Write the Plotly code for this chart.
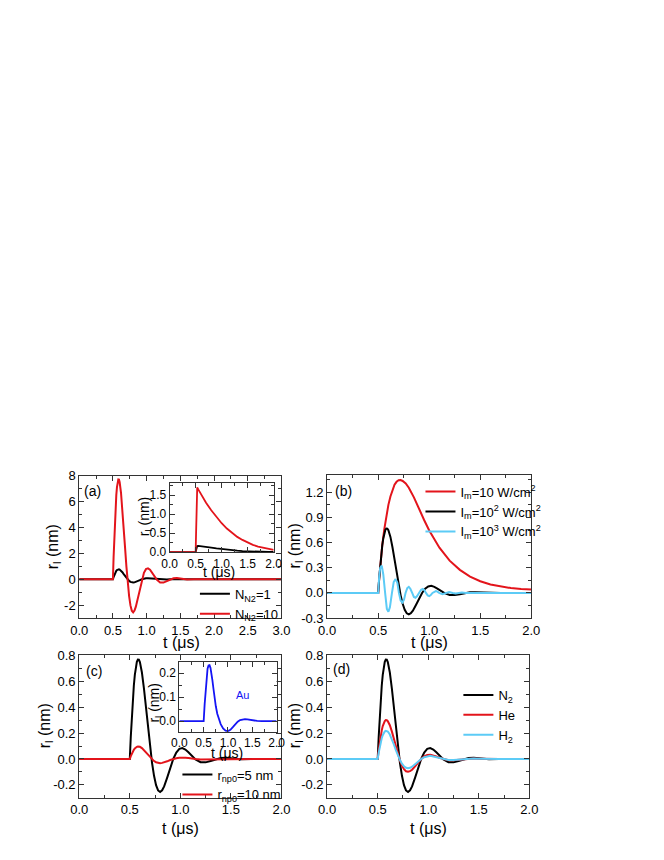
import plotly.graph_objects as go

# page is drawn with an 8px body margin, so the figure is 16px smaller
# than the window and every reference pixel is shifted by OFF
W, H = 648, 844
OFF = 8

BLACK = "#000000"
RED = "#e3141b"
CYAN = "#5ccbf6"
BLUE = "#1414f5"
AXIS = "#333333"
FONT = "Arial, Liberation Sans, sans-serif"

# ---- data ----------------------------------------------------------------
# common time grid (us) for the damped oscillation curves
T_OSC = [0.0, 0.5, 0.51, 0.52, 0.53, 0.54, 0.55, 0.56, 0.57, 0.58, 0.59, 0.60,
         0.62, 0.64, 0.66, 0.68, 0.70, 0.72, 0.74, 0.76, 0.78, 0.80, 0.82, 0.84,
         0.87, 0.90, 0.93, 0.96, 0.99, 1.02, 1.05, 1.08, 1.11, 1.15, 1.20, 1.25,
         1.30, 1.35, 1.40, 1.45, 1.50, 1.60, 1.70, 1.80, 2.00]

# baseline case (N_N2=1, I_m=10^2, r_np0=5 nm, N2)
R_BASE = [0, 0, 0.174, 0.328, 0.459, 0.566, 0.650, 0.712, 0.750, 0.768, 0.767, 0.749,
          0.668, 0.545, 0.398, 0.244, 0.098, -0.029, -0.130, -0.202, -0.243, -0.255, -0.242, -0.212,
          -0.144, -0.067, 0.0, 0.050, 0.078, 0.084, 0.073, 0.052, 0.026, -0.003, -0.025, -0.026,
          -0.015, -0.002, 0.007, 0.009, 0.006, -0.002, 0.0, 0.0, 0.0]

# (a) N_N2 = 10
R_A_N10 = [0, 0, 1.74, 3.28, 4.59, 5.66, 6.50, 7.12, 7.50, 7.70, 7.69, 7.49,
           6.68, 5.45, 3.98, 2.44, 0.98, -0.29, -1.30, -2.02, -2.43, -2.56, -2.42, -2.12,
           -1.44, -0.67, 0.0, 0.50, 0.78, 0.84, 0.73, 0.52, 0.26, -0.03, -0.25, -0.26,
           -0.15, -0.02, 0.07, 0.09, 0.06, -0.02, 0.0, 0.0, 0.0]

# (c) r_np0 = 10 nm
R_C_10NM = [0, 0, 0.022, 0.041, 0.057, 0.071, 0.081, 0.089, 0.094, 0.096, 0.096, 0.094,
            0.084, 0.068, 0.050, 0.031, 0.012, -0.004, -0.016, -0.025, -0.030, -0.032, -0.030, -0.027,
            -0.018, -0.008, 0.0, 0.006, 0.010, 0.011, 0.009, 0.007, 0.003, 0.0, -0.003, -0.003,
            -0.002, 0.0, 0.001, 0.001, 0.001, 0.0, 0.0, 0.0, 0.0]

# (d) He and H2
R_D_HE = [0, 0, 0.068, 0.128, 0.179, 0.221, 0.254, 0.278, 0.293, 0.300, 0.299, 0.292,
          0.261, 0.213, 0.155, 0.095, 0.038, -0.011, -0.050, -0.079, -0.095, -0.099, -0.094, -0.083,
          -0.056, -0.026, 0.0, 0.020, 0.031, 0.033, 0.028, 0.020, 0.010, -0.001, -0.010, -0.010,
          -0.006, -0.001, 0.003, 0.003, 0.002, -0.001, 0.0, 0.0, 0.0]
R_D_H2 = [0, 0, 0.049, 0.093, 0.130, 0.160, 0.184, 0.201, 0.212, 0.217, 0.217, 0.212,
          0.189, 0.154, 0.112, 0.069, 0.027, -0.008, -0.036, -0.057, -0.068, -0.072, -0.068, -0.060,
          -0.040, -0.019, 0.0, 0.014, 0.022, 0.024, 0.020, 0.015, 0.007, -0.001, -0.007, -0.007,
          -0.004, -0.001, 0.002, 0.003, 0.002, -0.001, 0.0, 0.0, 0.0]

# (b) I_m = 10 W/cm2
T_B_10 = [0.0, 0.5, 0.51, 0.52, 0.53, 0.54, 0.56, 0.58, 0.60, 0.62, 0.64, 0.66, 0.68,
          0.70, 0.72, 0.74, 0.77, 0.80, 0.85, 0.90, 0.95, 1.00, 1.05, 1.10, 1.20, 1.30,
          1.40, 1.50, 1.60, 1.70, 1.80, 1.90, 2.00]
R_B_10 = [0, 0, 0.17, 0.33, 0.46, 0.57, 0.76, 0.92, 1.05, 1.15, 1.23, 1.29, 1.325,
          1.343, 1.345, 1.335, 1.305, 1.255, 1.14, 1.00, 0.87, 0.745, 0.635, 0.54, 0.385, 0.275,
          0.195, 0.14, 0.10, 0.075, 0.058, 0.047, 0.04]

# (b) I_m = 10^3 W/cm2
T_B_1000 = [0.0, 0.5, 0.51, 0.52, 0.535, 0.55, 0.568, 0.585, 0.60, 0.615, 0.635, 0.652,
            0.67, 0.688, 0.703, 0.72, 0.737, 0.753, 0.768, 0.785, 0.80, 0.815, 0.833, 0.85,
            0.865, 0.88, 0.90, 0.92, 0.937, 0.953, 0.968, 0.985, 1.0, 1.015, 1.032, 1.05,
            1.065, 1.08, 1.097, 1.13, 1.16, 1.195, 1.23, 1.26, 1.29, 1.32, 1.36, 1.5, 2.0]
R_B_1000 = [0, 0, 0.20, 0.30, 0.325, 0.22, 0.0, -0.19, -0.225, -0.17, 0.0, 0.13,
            0.165, 0.12, 0.0, -0.09, -0.115, -0.08, 0.0, 0.058, 0.072, 0.05, 0.0, -0.048,
            -0.058, -0.04, 0.0, 0.038, 0.047, 0.032, 0.0, -0.03, -0.038, -0.026, 0.0, 0.018,
            0.022, 0.015, 0.0, -0.014, 0.0, 0.01, 0.0, -0.006, 0.0, 0.004, 0.0, 0.0, 0.0]

# inset of (a)
T_IN_A = [0.0, 0.5, 0.51, 0.52, 0.525, 0.53, 0.55, 0.6, 0.7, 0.8, 0.9, 1.0, 1.1,
          1.2, 1.3, 1.4, 1.5, 1.6, 1.7, 1.8, 1.9, 2.0]
R_IN_A_N10 = [0, 0, 0.6, 1.3, 1.62, 1.70, 1.65, 1.52, 1.30, 1.10, 0.92, 0.76, 0.62,
              0.50, 0.40, 0.32, 0.25, 0.19, 0.145, 0.11, 0.08, 0.06]
R_IN_A_N1 = [0, 0, 0.06, 0.12, 0.15, 0.16, 0.165, 0.158, 0.138, 0.118, 0.097, 0.078, 0.062,
             0.048, 0.036, 0.026, 0.018, 0.012, 0.008, 0.005, 0.003, 0.002]

# inset of (c): Au
T_IN_C = [0.0, 0.5, 0.52, 0.54, 0.56, 0.58, 0.60, 0.62, 0.64, 0.66, 0.68, 0.70, 0.72,
          0.75, 0.78, 0.81, 0.85, 0.90, 0.95, 1.00, 1.05, 1.10, 1.15, 1.20, 1.25, 1.30,
          1.35, 1.40, 1.50, 1.60, 1.70, 2.00]
R_IN_C_AU = [0, 0, 0.07, 0.135, 0.185, 0.218, 0.232, 0.233, 0.222, 0.200, 0.170, 0.137, 0.103,
             0.062, 0.031, 0.009, -0.012, -0.030, -0.039, -0.041, -0.036, -0.025, -0.012, -0.002, 0.005, 0.008,
             0.009, 0.008, 0.004, 0.001, 0.0, 0.0]

T_A = T_OSC + [3.0]
R_A_N1 = R_BASE + [0.0]
R_A_N10_FULL = R_A_N10 + [0.0]

A_YTICKS = [-2, 0, 2, 4, 6, 8]
A_YTEXT = ["-2", "0", "2", "4", "6", "8"]
B_YTICKS = [-0.3, 0.0, 0.3, 0.6, 0.9, 1.2]
B_YTEXT = ["-0.3", "0.0", "0.3", "0.6", "0.9", "1.2"]
CD_YTICKS = [-0.2, 0.0, 0.2, 0.4, 0.6, 0.8]
CD_YTEXT = ["-0.2", "0.0", "0.2", "0.4", "0.6", "0.8"]


def px(x):
    return (x - OFF) / W


def py(y):
    return 1 - (y - OFF) / H


def dom_x(x0, x1):
    return [px(x0), px(x1)]


def dom_y(top, bottom):
    return [py(bottom), py(top)]


def axis(domain, rng, dtick, minor, anchor, tickvals=None, ticktext=None, size=13):
    d = dict(
        domain=domain, range=rng, anchor=anchor,
        showline=True, linecolor=AXIS, linewidth=1, mirror="allticks",
        ticks="inside", ticklen=5, tickwidth=1, tickcolor=AXIS,
        minor=dict(ticks="inside", ticklen=3, tickwidth=1, tickcolor=AXIS, dtick=minor),
        showgrid=False, zeroline=False,
        tickfont=dict(size=size, color="#000", family=FONT),
    )
    if tickvals is not None:
        d.update(tickmode="array", tickvals=tickvals, ticktext=ticktext)
    else:
        d.update(tick0=0, dtick=dtick, tickformat=".1f")
    return d


fig = go.Figure()


def line(x, y, ax, color, name=None, legend=None, width=2):
    fig.add_trace(go.Scatter(
        x=x, y=y, xaxis="x" + ax, yaxis="y" + ax, mode="lines",
        line=dict(color=color, width=width),
        name=name, showlegend=name is not None, legend=legend,
    ))


# (a)
line(T_A, R_A_N1, "", BLACK, "N<sub>N2</sub>=1", "legend")
line(T_A, R_A_N10_FULL, "", RED, "N<sub>N2</sub>=10", "legend")
# (b)
line(T_B_10, R_B_10, "2", RED, "I<sub>m</sub>=10 W/cm<sup>2</sup>", "legend2")
line(T_OSC, R_BASE, "2", BLACK, "I<sub>m</sub>=10<sup>2</sup> W/cm<sup>2</sup>", "legend2")
line(T_B_1000, R_B_1000, "2", CYAN, "I<sub>m</sub>=10<sup>3</sup> W/cm<sup>2</sup>", "legend2")
# (c)
line(T_OSC, R_BASE, "3", BLACK, "r<sub>np0</sub>=5 nm", "legend3")
line(T_OSC, R_C_10NM, "3", RED, "r<sub>np0</sub>=10 nm", "legend3")
# (d)
line(T_OSC, R_BASE, "4", BLACK, "N<sub>2</sub>", "legend4")
line(T_OSC, R_D_HE, "4", RED, "He", "legend4")
line(T_OSC, R_D_H2, "4", CYAN, "H<sub>2</sub>", "legend4")
# insets
line(T_IN_A, R_IN_A_N1, "5", BLACK, width=1.8)
line(T_IN_A, R_IN_A_N10, "5", RED, width=1.8)
line(T_IN_C, R_IN_C_AU, "6", BLUE, width=1.8)

fig.update_layout(
    xaxis=axis(dom_x(72, 280), [0, 3], 0.5, 0.25, "y"),
    yaxis=axis(dom_y(477, 622), [-3, 8], None, 1, "x", A_YTICKS, A_YTEXT),
    xaxis2=axis(dom_x(327, 537), [0, 2], 0.5, 0.25, "y2"),
    yaxis2=axis(dom_y(476, 622), [-0.3, 1.41], None, 0.15, "x2", B_YTICKS, B_YTEXT),
    xaxis3=axis(dom_x(72, 280), [0, 2], 0.5, 0.25, "y3"),
    yaxis3=axis(dom_y(660, 805), [-0.3, 0.8], None, 0.1, "x3", CD_YTICKS, CD_YTEXT),
    xaxis4=axis(dom_x(327, 535), [0, 2], 0.5, 0.25, "y4"),
    yaxis4=axis(dom_y(660, 805), [-0.3, 0.8], None, 0.1, "x4", CD_YTICKS, CD_YTEXT),
    xaxis5=axis(dom_x(165, 272), [0, 2], 0.5, 0.25, "y5", size=12),
    yaxis5=axis(dom_y(484, 555), [-0.005, 1.83], 0.5, 0.25, "x5", size=12),
    xaxis6=axis(dom_x(175, 275), [0, 2], 0.5, 0.25, "y6", size=12),
    yaxis6=axis(dom_y(667, 738), [-0.045, 0.245], 0.1, 0.05, "x6", size=12),
)

LEG = dict(bgcolor="rgba(0,0,0,0)", borderwidth=0, font=dict(size=13, family=FONT, color="#000"),
           xanchor="left", yanchor="top", tracegroupgap=0)
# legend left = line start - 9, top = first row centre - 11 (page pixels)
fig.update_layout(
    legend=dict(LEG, x=px(200 - 9), y=py(593 - 11)),
    legend2=dict(LEG, x=px(432 - 9), y=py(489 - 11)),
    legend3=dict(LEG, x=px(182 - 9), y=py(777 - 11)),
    legend4=dict(LEG, x=px(471 - 9), y=py(696 - 11)),
)

ann = []


def text(x, y, s, size=15, angle=0, color="#000"):
    ann.append(dict(x=px(x), y=py(y), xref="paper", yref="paper", text=s,
                    showarrow=False, textangle=angle, xanchor="center", yanchor="middle",
                    font=dict(size=size, family=FONT, color=color)))


YT = "r<sub>l</sub> (nm)"
XT = "t (\u03bcs)"
text(45, 549, YT, 16, -90)
text(294, 549, YT, 16, -90)
text(37, 732, YT, 16, -90)
text(294, 732, YT, 16, -90)
text(177, 647, XT, 16)
text(432, 647, XT, 16)
text(176, 836, XT, 16)
text(431, 836, XT, 16)
text(140, 518, YT, 14, -90)
text(216, 575, XT, 14)
text(150, 708, YT, 14, -90)
text(224, 759, XT, 14)
text(240, 700, "Au", 11, color=BLUE)
text(86, 493, "(a)", 14)
text(344, 493, "(b)", 14)
text(87, 676, "(c)", 14)
text(342, 674, "(d)", 14)

fig.update_layout(
    annotations=ann,
    width=W, height=H,
    margin=dict(l=0, r=0, t=0, b=0),
    paper_bgcolor="white", plot_bgcolor="white",
    font=dict(family=FONT),
)

fig.write_html("out.html")
